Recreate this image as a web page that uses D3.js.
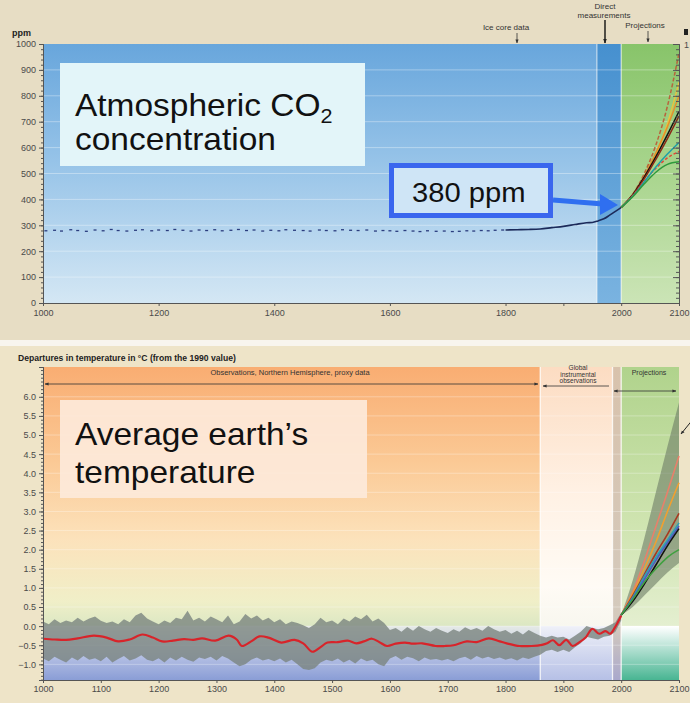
<!DOCTYPE html>
<html><head><meta charset="utf-8">
<script src="https://cdn.jsdelivr.net/npm/d3@7"></script>
<style>body{margin:0;background:#fff}svg{display:block}</style>
</head><body>
<svg id="c" width="690" height="703"></svg>
<script>
// ---------- DATA ----------
const co2Ticks = [0,100,200,300,400,500,600,700,800,900,1000];
const co2XTicks = [1000,1200,1400,1600,1800,1900,2000,2100];
const co2IceYears = [
 1005,1020,1032,1048,1060,1075,1090,1104,1118,1130,
 1145,1160,1172,1188,1200,1215,1228,1242,1256,1270,
 1283,1297,1310,1325,1338,1352,1365,1380,1394,1408,
 1420,1435,1450,1462,1478,1490,1505,1518,1532,1545,
 1560,1575,1588,1600,1612,1626,1640,1652,1665,1680,
 1694,1708,1720,1733,1745,1758,1770,1782,1795];
const co2IceValues = [
 279,281,278,283,280,277,282,279,284,280,
 278,281,283,279,282,280,284,281,278,282,
 280,283,279,281,284,280,282,278,281,279,
 283,281,280,278,282,280,279,283,281,280,
 282,278,280,279,277,280,278,276,279,277,
 278,276,277,279,278,280,279,281,282];
const co2ModernYears = [1800,1820,1840,1860,1880,1900,1920,1940,1950,1960,1970,1980,1990,2000,2005];
const co2ModernValues = [282,283,284,286,291,296,303,310,311,317,325,339,354,369,379];
const projYears = [2000,2020,2040,2060,2080,2100];
const co2Scenarios = [
 {name:"A1FI", color:"#b8643c", dash:"4,2", values:[369,420,500,610,760,965]},
 {name:"A2",   color:"#e8c440", dash:null,  values:[369,415,482,572,692,852]},
 {name:"A1B-orange", color:"#e8902a", dash:null, values:[369,418,490,580,680,800]},
 {name:"IS92a", color:"#111111", dash:null, values:[369,418,487,565,650,740]},
 {name:"B2-brown", color:"#8a2a18", dash:null, values:[369,416,480,555,635,722]},
 {name:"red", color:"#e04838", dash:"3,2", values:[369,415,470,520,560,585]},
 {name:"B2", color:"#1fa0a8", dash:null, values:[369,412,468,525,575,620]},
 {name:"B1", color:"#2f9a3c", dash:null, values:[369,410,460,505,535,545]}
];

const tempTicks = [-1.0,-0.5,0.0,0.5,1.0,1.5,2.0,2.5,3.0,3.5,4.0,4.5,5.0,5.5,6.0];
const tempXTicks = [1000,1100,1200,1300,1400,1500,1600,1700,1800,1900,2000,2100];
const tempYears = [1000,1020,1040,1060,1088,1110,1130,1150,1172,1190,
 1206,1225,1244,1260,1275,1298,1321,1335,1344,1360,
 1374,1390,1412,1435,1450,1466,1480,1492,1510,1527,
 1542,1555,1569,1582,1595,1610,1626,1640,1656,1679,
 1695,1710,1733,1750,1771,1790,1802,1824,1845,1863,
 1872,1882,1893,1905,1916,1928,1939,1950,1962,1973,
 1981,1989,2000];
const tempValues = [-0.33,-0.35,-0.36,-0.32,-0.25,-0.30,-0.40,-0.35,-0.22,-0.30,
 -0.40,-0.38,-0.34,-0.36,-0.32,-0.38,-0.25,-0.35,-0.52,-0.40,
 -0.27,-0.30,-0.43,-0.36,-0.45,-0.67,-0.55,-0.43,-0.42,-0.38,
 -0.45,-0.40,-0.33,-0.42,-0.52,-0.46,-0.43,-0.46,-0.45,-0.52,
 -0.52,-0.50,-0.40,-0.42,-0.32,-0.40,-0.45,-0.52,-0.52,-0.49,
 -0.45,-0.37,-0.50,-0.36,-0.52,-0.42,-0.29,-0.07,-0.20,-0.13,
 -0.20,-0.04,0.27];
const bandYears = d3.range(1000, 2001, 10);
const bandUpper = [
 0.12,0.05,0.18,0.08,0.15,0.10,0.22,0.12,0.20,0.25,
 0.14,0.08,0.12,0.05,0.18,0.10,0.28,0.35,0.20,0.12,
 0.05,0.15,0.08,0.22,0.18,0.40,0.15,0.22,0.12,0.25,
 0.18,0.10,0.28,0.05,0.12,0.32,0.20,0.28,0.15,0.22,
 0.10,0.18,0.05,0.12,0.08,0.02,-0.05,0.05,0.22,0.10,
 0.15,0.05,0.20,0.12,0.25,0.18,0.30,0.12,0.20,0.08,
 -0.10,-0.05,-0.15,-0.02,-0.12,0.00,-0.08,-0.15,-0.05,-0.12,
 -0.18,-0.08,-0.15,-0.03,-0.10,-0.05,-0.12,0.00,-0.08,-0.15,
 -0.10,-0.20,-0.12,-0.22,-0.10,-0.18,-0.25,-0.30,-0.25,-0.30,
 -0.28,-0.35,-0.25,-0.15,0.00,-0.05,-0.08,-0.05,0.02,0.10,
 0.35];
const bandLower = [
 -0.85,-0.92,-0.80,-0.88,-0.95,-0.82,-0.90,-0.78,-0.88,-0.84,
 -0.92,-0.80,-0.95,-0.86,-0.78,-0.90,-0.85,-0.76,-0.88,-0.92,
 -0.84,-0.95,-0.82,-0.90,-0.80,-0.88,-0.93,-0.82,-0.86,-0.80,
 -0.90,-0.78,-0.85,-0.95,-1.05,-1.00,-0.88,-0.82,-0.90,-0.86,
 -0.92,-0.85,-0.95,-0.88,-1.00,-1.12,-1.15,-1.10,-0.95,-0.88,
 -0.92,-0.85,-0.95,-0.88,-0.98,-0.85,-0.92,-0.88,-1.00,-1.05,
 -0.85,-0.78,-0.88,-0.80,-0.84,-0.92,-0.82,-0.88,-0.86,-0.90,
 -0.86,-0.92,-0.84,-0.80,-0.88,-0.78,-0.85,-0.80,-0.86,-0.82,
 -0.88,-0.84,-0.90,-0.82,-0.86,-0.80,-0.75,-0.65,-0.62,-0.68,
 -0.62,-0.68,-0.55,-0.45,-0.28,-0.32,-0.35,-0.28,-0.25,-0.15,
 0.15];
const tempScenarios = [
 {color:"#e8806a", values:[0.29,0.90,1.70,2.60,3.50,4.45]},
 {color:"#f0a030", values:[0.29,0.85,1.50,2.20,3.00,3.75]},
 {color:"#a83a20", values:[0.29,0.80,1.35,1.90,2.40,2.95]},
 {color:"#2aa0b8", values:[0.29,0.75,1.30,1.80,2.25,2.70]},
 {color:"#4a5cc0", values:[0.29,0.72,1.22,1.72,2.18,2.62]},
 {color:"#111111", values:[0.29,0.65,1.10,1.60,2.10,2.55]},
 {color:"#40a040", values:[0.29,0.70,1.15,1.50,1.80,2.00]}
];
const tempProjUpper = [0.29,1.20,2.30,3.50,4.70,5.85];
const tempProjLower = [0.29,0.50,0.80,1.10,1.40,1.65];

// ---------- SETUP ----------
const svg = d3.select('#c');
const defs = svg.append('defs');
const FONT = "'Liberation Sans', Arial, sans-serif";
function grad(id, stops, y1, y2) {
  const g = defs.append('linearGradient').attr('id', id)
    .attr('gradientUnits', 'userSpaceOnUse')
    .attr('x1', 0).attr('x2', 0).attr('y1', y1).attr('y2', y2);
  stops.forEach(([o, c]) => g.append('stop').attr('offset', o).attr('stop-color', c));
}
function arrowMarker(id, color, size) {
  defs.append('marker').attr('id', id).attr('viewBox', '0 0 10 10')
    .attr('refX', 9).attr('refY', 5).attr('markerWidth', size).attr('markerHeight', size)
    .attr('orient', 'auto-start-reverse').attr('markerUnits', 'userSpaceOnUse')
    .append('path').attr('d', 'M0,1 L10,5 L0,9 Z').attr('fill', color);
}
arrowMarker('ah', '#222', 5);
arrowMarker('ahs', '#333', 4);

// outer backgrounds
svg.append('rect').attr('x',0).attr('y',0).attr('width',690).attr('height',340).attr('fill','#e7ddc4');
svg.append('rect').attr('x',0).attr('y',340).attr('width',690).attr('height',6).attr('fill','#f8f5ee');
svg.append('rect').attr('x',0).attr('y',346).attr('width',690).attr('height',357).attr('fill','#eee4c8');

// ---------- TOP CHART ----------
const x = d3.scaleLinear([1000, 2100], [43, 679]);
const yC = d3.scaleLinear([0, 1000], [303, 44]);
grad('gBlue', [[0,'#68a6dc'],[0.45,'#96c3e8'],[1,'#d4e7f4']], yC(1000), yC(0));
grad('gDark', [[0,'#4690cf'],[1,'#7ab3e0']], yC(1000), yC(0));
grad('gGreen', [[0,'#88c46a'],[0.5,'#a9d58e'],[1,'#cbe4b6']], yC(1000), yC(0));
const topG = svg.append('g');
topG.append('rect').attr('x', x(1000)).attr('y', yC(1000)).attr('width', x(1958)-x(1000)).attr('height', yC(0)-yC(1000)).attr('fill','url(#gBlue)');
topG.append('rect').attr('x', x(1958)).attr('y', yC(1000)).attr('width', x(2000)-x(1958)).attr('height', yC(0)-yC(1000)).attr('fill','url(#gDark)');
topG.append('rect').attr('x', x(2000)).attr('y', yC(1000)).attr('width', x(2100)-x(2000)).attr('height', yC(0)-yC(1000)).attr('fill','url(#gGreen)');
topG.selectAll('line.grid').data(co2Ticks.slice(1,-1)).join('line').attr('class','grid')
  .attr('x1', x(1000)).attr('x2', x(2100)).attr('y1', d=>yC(d)).attr('y2', d=>yC(d))
  .attr('stroke','#fff').attr('stroke-opacity',0.35).attr('stroke-width',1);
[1958, 2000].forEach(yr => topG.append('line').attr('x1',x(yr)).attr('x2',x(yr)).attr('y1',yC(1000)).attr('y2',yC(0))
  .attr('stroke','#fff').attr('stroke-opacity',0.6).attr('stroke-width',1.2));

// ice core dots
topG.selectAll('rect.ice').data(d3.zip(co2IceYears, co2IceValues)).join('rect').attr('class','ice')
  .attr('x', d=>x(d[0])-1.5).attr('y', d=>yC(d[1])-0.6).attr('width',3).attr('height',1.3).attr('fill','#2b3d7e');
// modern line
topG.append('path').datum(d3.zip(co2ModernYears, co2ModernValues))
  .attr('d', d3.line().x(d=>x(d[0])).y(d=>yC(d[1])).curve(d3.curveMonotoneX))
  .attr('fill','none').attr('stroke','#1c2a5a').attr('stroke-width',1.6);
// projections
co2Scenarios.forEach(s => {
  topG.append('path').datum(d3.zip(projYears, s.values))
    .attr('d', d3.line().x(d=>x(d[0])).y(d=>yC(d[1])).curve(d3.curveMonotoneX))
    .attr('fill','none').attr('stroke', s.color).attr('stroke-width',1.5)
    .attr('stroke-dasharray', s.dash);
});

function styleAxis(g) {
  g.attr('font-family', FONT).attr('font-size', 9);
  g.selectAll('text').attr('fill', '#4a4a4a');
  g.selectAll('.domain').attr('stroke', '#555');
  g.selectAll('.tick line').attr('stroke', '#555');
}
// top axes
const co2Minor = d3.range(0, 1001, 20);
svg.append('g').attr('transform',`translate(${x(1000)},0)`).call(d3.axisLeft(yC).tickValues(co2Minor).tickSize(2).tickFormat('')).call(styleAxis);
svg.append('g').attr('transform',`translate(${x(1000)},0)`).call(d3.axisLeft(yC).tickValues(co2Ticks).tickSize(4).tickPadding(3).tickFormat(d3.format('d'))).call(styleAxis);
svg.append('g').attr('transform',`translate(${x(2100)},0)`).call(d3.axisLeft(yC).tickValues(co2Minor).tickSize(3).tickFormat('')).call(styleAxis);
svg.append('g').attr('transform',`translate(${x(2100)},0)`).call(d3.axisLeft(yC).tickValues(co2Ticks).tickSize(6).tickFormat('')).call(styleAxis);
svg.append('g').attr('transform',`translate(0,${yC(0)})`).call(d3.axisBottom(x).tickValues(co2XTicks).tickSize(3).tickPadding(4).tickFormat(d => d===1900 ? '' : d)).call(styleAxis);
svg.append('text').attr('x', x(2100)+5).attr('y', yC(1000)+4).text('1').attr('font-family',FONT).attr('font-size',9).attr('fill','#4a4a4a');
svg.append('rect').attr('x', 684).attr('y', 29).attr('width', 4).attr('height', 6).attr('fill','#222');

// top header labels
const lab = (t, xx, yy, size, anchor) => svg.append('text').attr('x', xx).attr('y', yy).text(t)
  .attr('font-family', FONT).attr('font-size', size || 8).attr('fill', '#333').attr('text-anchor', anchor || 'middle');
svg.append('text').attr('x', 12).attr('y', 36).text('ppm').attr('font-family',FONT).attr('font-size',9).attr('font-weight','bold').attr('fill','#222');
lab('Ice core data', 506, 30);
svg.append('line').attr('x1',517).attr('x2',517).attr('y1',33).attr('y2',43).attr('stroke','#333').attr('stroke-width',0.8).attr('marker-end','url(#ahs)');
lab('Direct', 605, 9);
lab('measurements', 604, 18);
svg.append('line').attr('x1',605).attr('x2',605).attr('y1',20).attr('y2',43).attr('stroke','#111').attr('stroke-width',1.4).attr('marker-end','url(#ah)');
lab('Projections', 645, 28);
svg.append('line').attr('x1',648).attr('x2',648).attr('y1',31).attr('y2',42).attr('stroke','#333').attr('stroke-width',0.8).attr('marker-end','url(#ahs)');

// CO2 title box
svg.append('rect').attr('x',60).attr('y',63).attr('width',305).attr('height',103).attr('fill','#e3f5f9');
const t1 = svg.append('text').attr('x',75).attr('y',116).attr('font-family',FONT).attr('font-size',31).attr('fill','#111')
  .attr('transform','translate(75,0) scale(1.08,1) translate(-75,0)');
t1.append('tspan').text('Atmospheric CO');
t1.append('tspan').text('2').attr('font-size',20).attr('dy',7);
svg.append('text').attr('x',75).attr('y',150).text('concentration').attr('font-family',FONT).attr('font-size',31).attr('fill','#111')
  .attr('transform','translate(75,0) scale(1.08,1) translate(-75,0)');

// 380 ppm box + arrow
svg.append('rect').attr('x',391.5).attr('y',165.5).attr('width',159).attr('height',50).attr('fill','#cfe5f6').attr('stroke','#3a66ee').attr('stroke-width',5);
svg.append('text').attr('x',412).attr('y',202).text('380 ppm').attr('font-family',FONT).attr('font-size',27).attr('fill','#111')
  .attr('transform','translate(412,0) scale(1.08,1) translate(-412,0)');
svg.append('line').attr('x1',553).attr('y1',200).attr('x2',603).attr('y2',204).attr('stroke','#2f6ff0').attr('stroke-width',5);
svg.append('path').attr('d','M600,194 L618,205 L600,215 Z').attr('fill','#2f6ff0');

// ---------- BOTTOM CHART ----------
const yT = d3.scaleLinear([-1.41, 6.78], [680, 367]);
const y0 = yT(6.78), y1 = yT(-1.41);
const zo = (yT(0) - y0) / (y1 - y0);
grad('gOrange', [[0,'#f9ad72'],[0.3,'#fbc995'],[0.55,'#fce2bb'],[0.75,'#f0efc8'],[zo,'#dbe7c3'],[zo+0.001,'#e5e9e6'],[0.9,'#c2cbe8'],[1,'#8a9dd6']], y0, y1);
grad('gInstr', [[0,'#fcdcc2'],[0.4,'#fff1e4'],[0.7,'#fffbf5'],[zo,'#f8f7ef'],[zo+0.001,'#eef0f8'],[1,'#b6c0e6']], y0, y1);
grad('gGray', [[0,'#d8c2ac'],[zo,'#d4cabd'],[1,'#a9a8cc']], y0, y1);
grad('gProj', [[0,'#b0d38c'],[0.5,'#cfe4b0'],[zo,'#e4efd0'],[zo+0.001,'#ffffff'],[1,'#48b592']], y0, y1);
const bot = svg.append('g');
bot.append('rect').attr('x',x(1000)).attr('y',y0).attr('width',x(1860)-x(1000)).attr('height',y1-y0).attr('fill','url(#gOrange)');
bot.append('rect').attr('x',x(1860)).attr('y',y0).attr('width',x(1985)-x(1860)).attr('height',y1-y0).attr('fill','url(#gInstr)');
bot.append('rect').attr('x',x(1985)).attr('y',y0).attr('width',x(2000)-x(1985)).attr('height',y1-y0).attr('fill','url(#gGray)');
bot.append('rect').attr('x',x(2000)).attr('y',y0).attr('width',x(2100)-x(2000)).attr('height',y1-y0).attr('fill','url(#gProj)');
bot.selectAll('line.grid').data(tempTicks).join('line').attr('class','grid')
  .attr('x1', x(1000)).attr('x2', x(2100)).attr('y1', d=>yT(d)).attr('y2', d=>yT(d))
  .attr('stroke','#fff').attr('stroke-opacity',0.3);
[1860, 1985, 2000].forEach(yr => bot.append('line').attr('x1',x(yr)).attr('x2',x(yr)).attr('y1',y0).attr('y2',y1)
  .attr('stroke','#fff').attr('stroke-opacity',0.8).attr('stroke-width',1.3));

// uncertainty band
bot.append('path').datum(d3.zip(bandYears, bandUpper, bandLower))
  .attr('d', d3.area().x(d=>x(d[0])).y0(d=>yT(d[2])).y1(d=>yT(d[1])))
  .attr('fill','#7b8580').attr('fill-opacity',0.8);
// projection band
bot.append('path').datum(d3.zip(projYears, tempProjUpper, tempProjLower))
  .attr('d', d3.area().x(d=>x(d[0])).y0(d=>yT(d[2])).y1(d=>yT(d[1])).curve(d3.curveMonotoneX))
  .attr('fill','#6d7c66').attr('fill-opacity',0.6);
tempScenarios.forEach(s => {
  bot.append('path').datum(d3.zip(projYears, s.values))
    .attr('d', d3.line().x(d=>x(d[0])).y(d=>yT(d[1])).curve(d3.curveMonotoneX))
    .attr('fill','none').attr('stroke', s.color).attr('stroke-width',1.6);
});
// red observed line
bot.append('path').datum(d3.zip(tempYears, tempValues))
  .attr('d', d3.line().x(d=>x(d[0])).y(d=>yT(d[1])).curve(d3.curveCatmullRom.alpha(0.5)))
  .attr('fill','none').attr('stroke','#d8242a').attr('stroke-width',2.2);

// bottom axes
const tMinor = d3.range(-14, 68, 1).map(d => d / 10);
svg.append('g').attr('transform',`translate(${x(1000)},0)`).call(d3.axisLeft(yT).tickValues(tMinor).tickSize(2).tickFormat('')).call(styleAxis);
svg.append('g').attr('transform',`translate(${x(1000)},0)`).call(d3.axisLeft(yT).tickValues(tempTicks).tickSize(4).tickPadding(3).tickFormat(d3.format('.1f'))).call(styleAxis);
svg.append('g').attr('transform',`translate(0,${y1})`).call(d3.axisBottom(x).tickValues(tempXTicks).tickSize(3).tickPadding(3).tickFormat(d3.format('d'))).call(styleAxis);

// bottom header
svg.append('text').attr('x', 18).attr('y', 361).text('Departures in temperature in °C (from the 1990 value)')
  .attr('font-family', FONT).attr('font-size', 8.2).attr('font-weight','bold').attr('fill','#222')
  .attr('transform','translate(18,0) scale(1.05,1) translate(-18,0)');
lab('Observations, Northern Hemisphere, proxy data', 290, 375, 7.5);
svg.append('line').attr('x1',45).attr('x2',538).attr('y1',384).attr('y2',384).attr('stroke','#333').attr('stroke-width',0.8)
  .attr('marker-start','url(#ahs)').attr('marker-end','url(#ahs)');
lab('Global', 578, 370, 6.5);
lab('instrumental', 578, 376.5, 6.5);
lab('observations', 578, 383, 6.5);
svg.append('line').attr('x1',543).attr('x2',609).attr('y1',386).attr('y2',386).attr('stroke','#333').attr('stroke-width',0.8)
  .attr('marker-start','url(#ahs)');
lab('Projections', 649, 375, 7);
svg.append('line').attr('x1',614).attr('x2',676).attr('y1',391).attr('y2',391).attr('stroke','#333').attr('stroke-width',0.8)
  .attr('marker-start','url(#ahs)').attr('marker-end','url(#ahs)');
svg.append('line').attr('x1',694).attr('x2',681).attr('y1',418).attr('y2',434).attr('stroke','#222').attr('stroke-width',1).attr('marker-end','url(#ahs)');

// temperature title box
svg.append('rect').attr('x',60).attr('y',400).attr('width',307).attr('height',98).attr('fill','#fde9da').attr('fill-opacity',0.92);
svg.append('text').attr('x',75).attr('y',445).text('Average earth\u2019s').attr('font-family',FONT).attr('font-size',31).attr('fill','#111')
  .attr('transform','translate(75,0) scale(1.08,1) translate(-75,0)');
svg.append('text').attr('x',75).attr('y',483).text('temperature').attr('font-family',FONT).attr('font-size',31).attr('fill','#111')
  .attr('transform','translate(75,0) scale(1.08,1) translate(-75,0)');
</script>
</body></html>
